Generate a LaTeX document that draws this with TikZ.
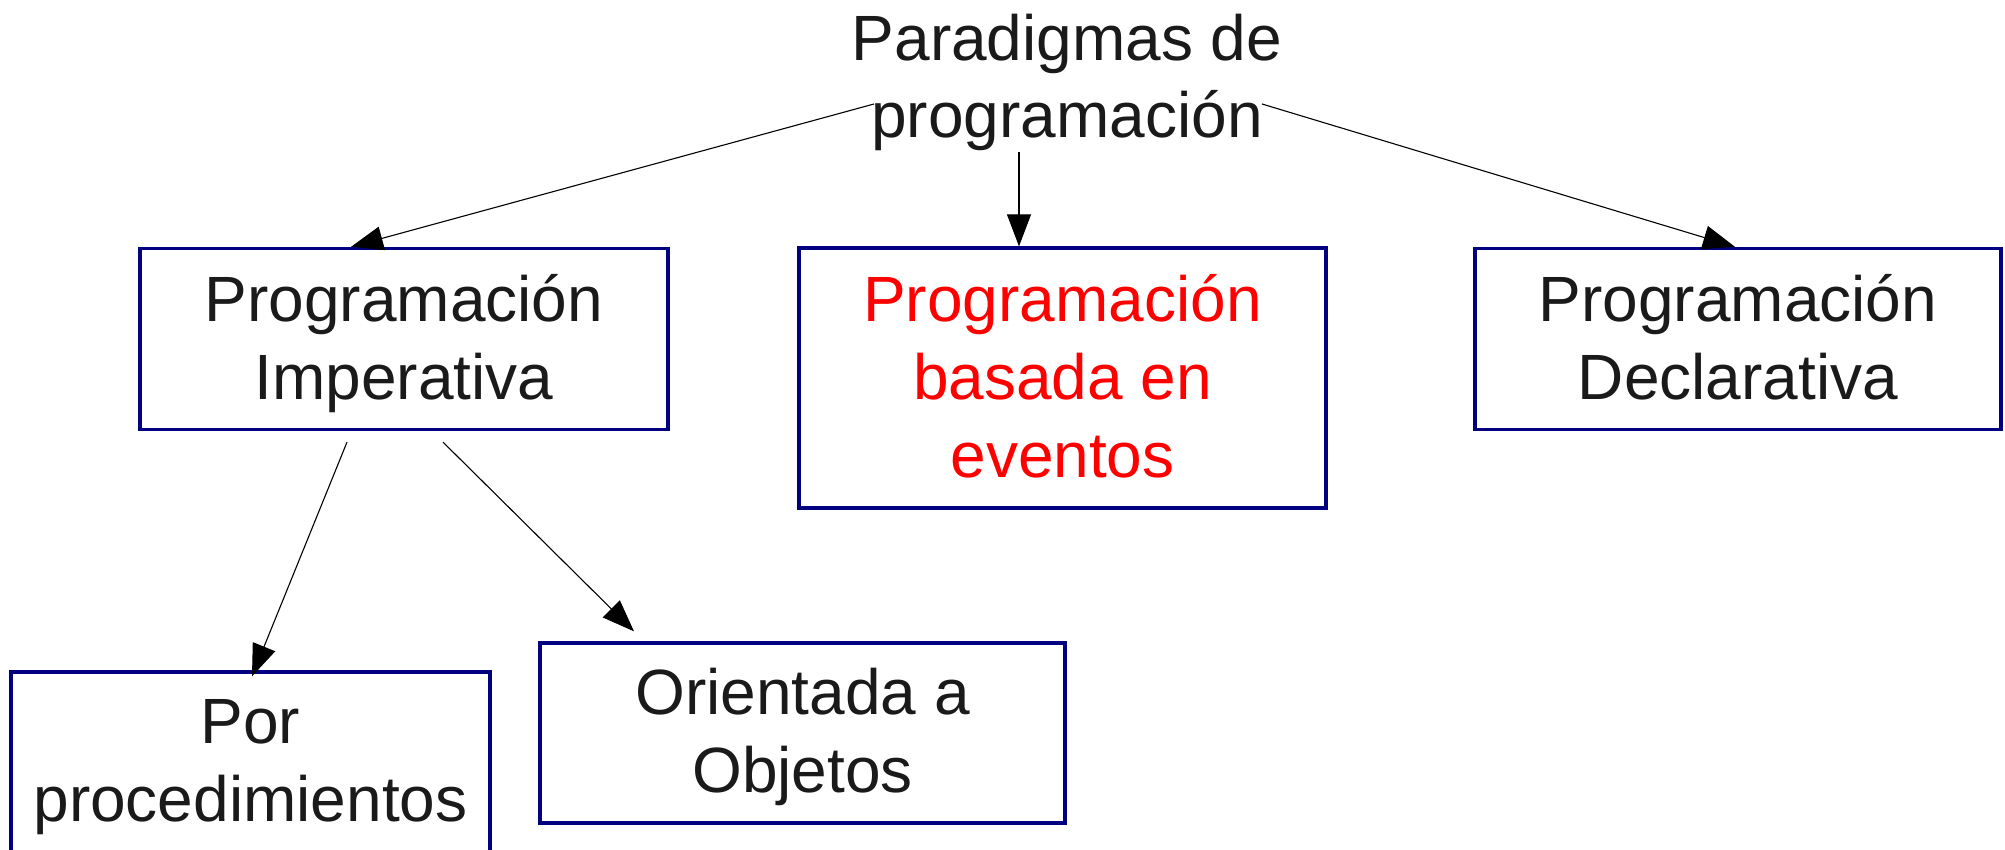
\documentclass[tikz,border=0pt]{standalone}
\usepackage{fontspec}
\setmainfont{Liberation Sans}
\usetikzlibrary{arrows.meta}
\definecolor{boxblue}{RGB}{0,0,128}
\definecolor{txtgray}{RGB}{26,26,26}
\definecolor{evred}{RGB}{255,0,0}
\begin{document}
\begin{tikzpicture}[x=1pt,y=1pt,
  box/.style={draw=boxblue,line width=3.3pt,inner sep=0pt,align=center,
    font=\fontsize{64}{78}\selectfont,text=txtgray,text depth=0pt},
  conn/.style={draw=black,line width=1.1pt,-{Triangle[length=32pt,width=24pt]}}]
\useasboundingbox (0,0) rectangle (2005,850);
\node[inner sep=0pt,align=center,font=\fontsize{64}{77.5}\selectfont,text=txtgray,
  text height=0pt,text depth=0pt]
  (title) at (1067,712) {Paradigmas de\\programación};
\node[box,minimum width=528,minimum height=181,text height=122pt] (imp) at (404,511) {Programación\\Imperativa};
\node[box,minimum width=527,minimum height=260,text=evred,text height=200pt] (ev) at (1062.5,472) {Programación\\basada en\\eventos};
\node[box,minimum width=526,minimum height=181,text height=122pt] (dec) at (1738,511) {Programación\\Declarativa};
\node[box,minimum width=525,minimum height=180,text height=120pt] (ori) at (802.5,117) {Orientada a\\Objetos};
\node[box,minimum width=479,minimum height=180,text height=120pt] (por) at (250.5,88) {Por \\procedimientos};
\coordinate (tl) at (874,746);
\coordinate (tm) at (1019,698);
\coordinate (tr) at (1262,746);
\coordinate (il) at ([xshift=-57pt,yshift=-11pt]imp.south);
\coordinate (ir) at ([xshift=39pt,yshift=-11pt]imp.south);
\draw[conn] (tl) -- ([xshift=-53pt]imp.north);
\draw[conn] (tm) -- ([xshift=-43.5pt]ev.north);
\draw[conn] (tr) -- ([xshift=-3pt]dec.north);
\draw[conn] (il) -- ([xshift=1.5pt,yshift=-6pt]por.north);
\draw[conn] (ir) -- ([xshift=-168.5pt,yshift=10pt]ori.north);
\end{tikzpicture}
\end{document}
